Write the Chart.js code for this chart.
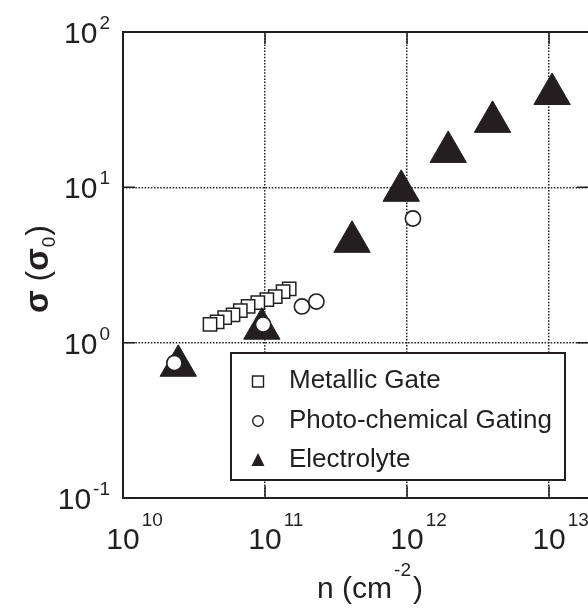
<!DOCTYPE html>
<html>
<head>
<meta charset="utf-8">
<title>Conductivity vs carrier density</title>
<script src="https://cdn.jsdelivr.net/npm/chart.js@4/dist/chart.umd.min.js"></script>
<style>
  html, body { margin: 0; padding: 0; background: #fff; overflow: hidden; }
  canvas { display: block; }
</style>
</head>
<body>
<canvas id="sigmaChart" width="588" height="608"></canvas>
<script>
// carrier density n (cm^-2) and normalised conductivity sigma/sigma0
const gateN = [1.48e11, 1.34e11, 1.18e11, 1.03e11, 8.9e10, 7.6e10, 6.7e10, 5.95e10, 5.2e10, 4.6e10, 4.1e10];
const gateSigma = [2.22, 2.13, 1.98, 1.89, 1.81, 1.71, 1.61, 1.51, 1.45, 1.36, 1.31];

const photoN = [2.3e10, 9.7e10, 1.82e11, 2.3e11, 1.1e12];
const photoSigma = [0.74, 1.31, 1.71, 1.84, 6.3];

const electrolyteN = [2.45e10, 9.5e10, 4.1e11, 9.1e11, 1.95e12, 4.0e12, 1.05e13];
const electrolyteSigma = [0.71, 1.23, 4.46, 9.5, 16.9, 26.4, 39.9];

const xTicks = [1e10, 1e11, 1e12, 1e13];
const yTicks = [0.1, 1, 10, 100];
// x axis runs a little past 1e13 and is cut at the canvas edge
const xMin = 1e10, xMax = 1.88e13;
const yMin = 0.1, yMax = 100;

const ink = '#231f20';
const fontFamily = "'Liberation Sans', Arial, Helvetica, sans-serif";

function toPoints(xs, ys) {
    return xs.map((v, i) => ({ x: v, y: ys[i] }));
}

function exponentOf(v) {
    return String(Math.round(Math.log10(v)));
}

// draws a run of text pieces (size, weight, vertical shift) from x
function drawPieces(ctx, pieces, x, y) {
    let cx = x;
    pieces.forEach(p => {
        ctx.font = `${p.weight || 'normal'} ${p.size}px ${fontFamily}`;
        cx += p.gap || 0;
        ctx.fillText(p.text, cx, y + (p.dy || 0));
        cx += ctx.measureText(p.text).width;
    });
}

function piecesWidth(ctx, pieces) {
    let w = 0;
    pieces.forEach(p => {
        ctx.font = `${p.weight || 'normal'} ${p.size}px ${fontFamily}`;
        w += (p.gap || 0) + ctx.measureText(p.text).width;
    });
    return w;
}

const axisDecor = {
    id: 'axisDecor',
    afterDraw(chart) {
        const { ctx, chartArea: { left, top, right, bottom }, scales: { x, y } } = chart;
        ctx.save();
        ctx.strokeStyle = ink;
        ctx.fillStyle = ink;
        ctx.setLineDash([]);

        // frame: left, bottom and top (right side falls off the canvas)
        ctx.lineWidth = 2;
        ctx.beginPath();
        ctx.moveTo(right + 2, top);
        ctx.lineTo(left, top);
        ctx.lineTo(left, bottom);
        ctx.lineTo(right + 2, bottom);
        ctx.stroke();

        // inward tick marks
        ctx.lineWidth = 1.5;
        ctx.beginPath();
        xTicks.forEach(v => {
            const px = x.getPixelForValue(v);
            ctx.moveTo(px, bottom); ctx.lineTo(px, bottom - 12);
            ctx.moveTo(px, top); ctx.lineTo(px, top + 12);
        });
        yTicks.forEach(v => {
            const py = y.getPixelForValue(v);
            ctx.moveTo(left, py); ctx.lineTo(left + 12, py);
            ctx.moveTo(right, py); ctx.lineTo(right - 11, py);
        });
        ctx.stroke();

        ctx.textBaseline = 'alphabetic';
        ctx.textAlign = 'left';

        // x tick labels: 10 centred on the tick, exponent raised to its right
        xTicks.forEach(v => {
            const px = x.getPixelForValue(v);
            ctx.font = `30px ${fontFamily}`;
            const w = ctx.measureText('10').width;
            ctx.fillText('10', px - w / 2, 549);
            ctx.font = `19px ${fontFamily}`;
            ctx.fillText(exponentOf(v), px + w / 2 + 2, 526);
        });

        // y tick labels, right aligned against the axis
        yTicks.forEach(v => {
            const py = y.getPixelForValue(v);
            const pieces = [
                { text: '10', size: 30 },
                { text: exponentOf(v), size: 19, dy: -14, gap: 2 }
            ];
            const w = piecesWidth(ctx, pieces);
            drawPieces(ctx, pieces, 110 - w, py + 11);
        });

        // x axis title
        const xTitle = [
            { text: 'n (cm', size: 30 },
            { text: '-2', size: 19, dy: -22, gap: 2 },
            { text: ')', size: 30, gap: 2 }
        ];
        drawPieces(ctx, xTitle, 370 - piecesWidth(ctx, xTitle) / 2, 598);

        // y axis title, rotated
        const yTitle = [
            { text: 'σ', size: 33, weight: 'bold' },
            { text: ' (', size: 32 },
            { text: 'σ', size: 33, weight: 'bold' },
            { text: '0', size: 19, dy: 7, gap: 1 },
            { text: ')', size: 32, gap: 1 }
        ];
        ctx.save();
        ctx.translate(37, 269);
        ctx.rotate(-Math.PI / 2);
        drawPieces(ctx, yTitle, -piecesWidth(ctx, yTitle) / 2, 11);
        ctx.restore();

        // legend box
        const box = { x: 231, y: 353, w: 334, h: 127 };
        ctx.fillStyle = '#fff';
        ctx.fillRect(box.x, box.y, box.w, box.h);
        ctx.lineWidth = 2;
        ctx.strokeRect(box.x, box.y, box.w, box.h);

        const rowBase = [388, 428, 467];
        const mx = 258;
        chart.data.datasets.forEach((ds, i) => {
            const base = rowBase[i];
            const cy = base - 7;
            ctx.lineWidth = 1.4;
            ctx.strokeStyle = ink;
            ctx.fillStyle = ink;
            ctx.beginPath();
            if (ds.pointStyle === 'rect') {
                ctx.rect(mx - 5.5, cy - 5, 11, 11);
                ctx.stroke();
            } else if (ds.pointStyle === 'circle') {
                ctx.arc(mx, cy, 5.3, 0, Math.PI * 2);
                ctx.stroke();
            } else {
                ctx.moveTo(mx, cy - 7);
                ctx.lineTo(mx + 6.5, cy + 6);
                ctx.lineTo(mx - 6.5, cy + 6);
                ctx.closePath();
                ctx.fill();
            }
            ctx.font = `26px ${fontFamily}`;
            ctx.fillText(ds.label, 289, base);
        });

        ctx.restore();
    }
};

const logAxis = (min, max, ticks) => ({
    type: 'logarithmic',
    min: min,
    max: max,
    afterBuildTicks: axis => { axis.ticks = ticks.map(v => ({ value: v })); },
    ticks: { display: false },
    grid: { color: ink, lineWidth: 1.5, drawTicks: false },
    border: { display: false, dash: [1.5, 1.6] },
    title: { display: false }
});

new Chart(document.getElementById('sigmaChart'), {
    type: 'scatter',
    data: {
        datasets: [
            {
                label: 'Metallic Gate',
                data: toPoints(gateN, gateSigma),
                pointStyle: 'rect',
                pointRadius: 9.4,
                backgroundColor: '#fff',
                borderColor: ink,
                borderWidth: 1.5,
                order: 3
            },
            {
                label: 'Photo-chemical Gating',
                data: toPoints(photoN, photoSigma),
                pointStyle: 'circle',
                pointRadius: 7.6,
                backgroundColor: '#fff',
                borderColor: ink,
                borderWidth: 1.6,
                order: 1
            },
            {
                label: 'Electrolyte',
                data: toPoints(electrolyteN, electrolyteSigma),
                pointStyle: 'triangle',
                pointRadius: 21,
                backgroundColor: ink,
                borderColor: ink,
                borderWidth: 1,
                order: 2
            }
        ]
    },
    options: {
        responsive: false,
        animation: false,
        events: [],
        layout: { autoPadding: false, padding: { left: 123, top: 32, right: 0, bottom: 110 } },
        plugins: {
            legend: { display: false },
            tooltip: { enabled: false }
        },
        scales: {
            x: logAxis(xMin, xMax, xTicks),
            y: logAxis(yMin, yMax, yTicks)
        }
    },
    plugins: [axisDecor]
});
</script>
</body>
</html>
